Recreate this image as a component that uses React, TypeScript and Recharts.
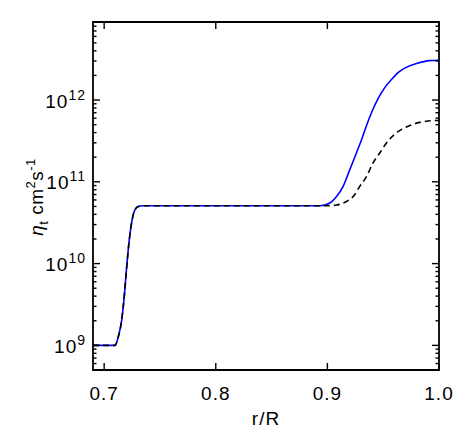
import React from 'react';
import { LineChart, Line, XAxis, YAxis, ReferenceArea } from 'recharts';

// shared profile up to the base of the outer layer
const rCore = [0.69, 0.7, 0.7097, 0.7127, 0.7157, 0.718, 0.7202, 0.7225, 0.7246, 0.727, 0.7306, 0.735, 0.75, 0.8, 0.85, 0.8932];
const etaCore = [1e9, 1e9, 1e9, 1.28e9, 2.04e9, 3.98e9, 9.2e9, 1.95e10, 3.16e10, 4.37e10, 5.0e10, 5.1e10, 5.1e10, 5.1e10, 5.1e10, 5.1e10];

// solid blue outer rise
const rBlue = [0.9022, 0.9082, 0.9141, 0.9201, 0.9261, 0.9306, 0.935, 0.9395, 0.9454, 0.9514, 0.9574, 0.9633, 0.9693, 0.9798, 0.9917, 1.0];
const etaBlue = [5.5e10, 6.6e10, 8.8e10, 1.41e11, 2.27e11, 3.27e11, 4.86e11, 7.0e11, 1.04e12, 1.42e12, 1.78e12, 2.16e12, 2.46e12, 2.79e12, 3.03e12, 3.06e12];

// dashed black outer rise
const rDash = [0.9022, 0.9082, 0.9171, 0.9231, 0.929, 0.935, 0.9409, 0.9469, 0.9529, 0.9618, 0.9708, 0.9827, 0.9946, 1.0];
const etaDash = [5.12e10, 5.2e10, 5.75e10, 6.6e10, 8.8e10, 1.16e11, 1.7e11, 2.25e11, 2.99e11, 3.96e11, 4.68e11, 5.33e11, 5.6e11, 5.63e11];

const xTicks = [0.7, 0.8, 0.9, 1.0];
const yMajor = [1e9, 1e10, 1e11, 1e12];
const yTicks: number[] = [];
for (const d of [1e8, 1e9, 1e10, 1e11, 1e12]) {
  for (let m = 1; m <= 9; m++) {
    const v = m * d;
    if (v >= 5.5e8 && v <= 9e12) yTicks.push(v);
  }
}

const toRows = (r: number[], eta: number[]) => r.map((x, i) => ({ r: x, eta: eta[i] }));
const blueData = toRows([...rCore, ...rBlue], [...etaCore, ...etaBlue]);
const dashData = toRows([...rCore, ...rDash], [...etaCore, ...etaDash]);

const W = 455;
const H = 428;
const PL = 85;
const PR = 431;
const PT = 14;
const PB = 362;
const FONT = "'Liberation Sans', Arial, sans-serif";

const YTick = (props: any) => {
  const { y, payload } = props;
  const v = payload.value as number;
  const exp = Math.round(Math.log10(v));
  const major = yMajor.includes(v);
  const len = major ? 7 : 3.5;
  return (
    <g>
      <line x1={PL} x2={PL + len} y1={y} y2={y} stroke="#000" strokeWidth={1.4} />
      <line x1={PR} x2={PR - len} y1={y} y2={y} stroke="#000" strokeWidth={1.4} />
      {major && (
        <text x={PL - 7} y={y + 7.5} textAnchor="end" fontFamily={FONT} fontSize={19} letterSpacing={1} fill="#000">
          <tspan>10</tspan>
          <tspan dy={-8} fontSize={14}>{exp}</tspan>
        </text>
      )}
    </g>
  );
};

const XTick = (props: any) => {
  const { x, payload } = props;
  return (
    <g>
      <line x1={x} x2={x} y1={PB} y2={PB - 7} stroke="#000" strokeWidth={1.4} />
      <line x1={x} x2={x} y1={PT} y2={PT + 7} stroke="#000" strokeWidth={1.4} />
      <text x={x} y={PB + 30} textAnchor="middle" fontFamily={FONT} fontSize={19} letterSpacing={1} fill="#000">
        {payload.value.toFixed(1)}
      </text>
    </g>
  );
};

export default function App() {
  return (
    <div style={{ width: W, height: H }}>
      <LineChart width={W} height={H} margin={{ top: PT, right: W - PR, bottom: 36, left: 25 }}>
        <XAxis
          dataKey="r"
          type="number"
          domain={[0.69, 1.0]}
          allowDataOverflow
          ticks={xTicks}
          interval={0}
          tick={<XTick />}
          tickLine={false}
          axisLine={false}
          height={30}
          label={{
            content: () => (
              <text x={(PL + PR) / 2} y={417} textAnchor="middle" fontFamily={FONT} fontSize={19} letterSpacing={1} fill="#000">
                r/R
              </text>
            ),
          }}
        />
        <YAxis
          dataKey="eta"
          type="number"
          scale="log"
          domain={[5e8, 9e12]}
          allowDataOverflow
          ticks={yTicks}
          interval={0}
          tick={<YTick />}
          tickLine={false}
          axisLine={false}
          width={60}
          label={{
            content: () => (
              <text
                x={35}
                y={189}
                transform="rotate(-90, 35, 189)"
                textAnchor="middle"
                fontFamily={FONT}
                fontSize={19}
                letterSpacing={0.5}
                fill="#000"
              >
                <tspan fontStyle="italic">η</tspan>
                <tspan dy={5} fontSize={13}>t</tspan>
                <tspan dy={-5}> cm</tspan>
                <tspan dy={-8} fontSize={13}>2</tspan>
                <tspan dy={8}>s</tspan>
                <tspan dy={-8} fontSize={13}>-1</tspan>
              </text>
            ),
          }}
        />
        <ReferenceArea x1={0.69} x2={1.0} y1={5e8} y2={9e12} fill="none" stroke="#000" strokeWidth={1.8} ifOverflow="visible" />
        <Line
          data={blueData}
          dataKey="eta"
          type="monotone"
          stroke="#0000ff"
          strokeWidth={1.6}
          dot={false}
          isAnimationActive={false}
        />
        <Line
          data={dashData}
          dataKey="eta"
          type="monotone"
          stroke="#000"
          strokeWidth={1.6}
          strokeDasharray="6 4"
          dot={false}
          isAnimationActive={false}
        />
      </LineChart>
    </div>
  );
}
